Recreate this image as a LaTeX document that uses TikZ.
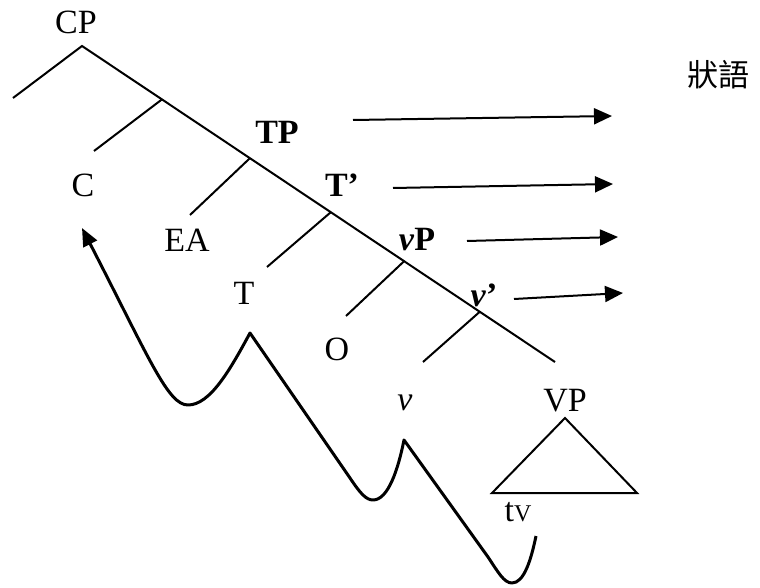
\documentclass[tikz,border=0pt]{standalone}
\usepackage{fontspec}
\setmainfont{Liberation Serif}
\newfontfamily\cjkfont{Noto Sans CJK TC}
\usetikzlibrary{arrows.meta, calc}

\begin{document}
\begin{tikzpicture}[x=1pt, y=-1pt,
  cat/.style={inner sep=0pt, font=\fontsize{34}{40}\selectfont},
  branch/.style={line width=2pt},
  arrow/.style={-{Triangle[length=18pt,width=16pt]}, line width=2pt},
  move/.style={-{Triangle[length=18pt,width=15pt]}, line width=3pt, line join=round}
]
  \useasboundingbox (0,0) rectangle (760,588);

  % labels
  \node[cat] (cp)   at (76,22)   {CP};
  \node[cat] (c)    at (83,185)  {C};
  \node[cat] (tp)   at (277,132) {\textbf{TP}};
  \node[cat] (ea)   at (187,240) {EA};
  \node[cat] (tbar) at (342,185) {\textbf{T’}};
  \node[cat] (t)    at (244,293) {T};
  \node[cat] (vp)   at (417,240) {\textbf{\textit{v}P}};
  \node[cat] (o)    at (337,349) {O};
  \node[cat] (vbar) at (484,295) {\textbf{\textit{v}’}};
  \node[cat] (v)    at (405,403) {\textit{v}};
  \node[cat] (vpl)  at (565,401) {VP};
  \node[cat] (tv)   at (518,512) {t{\fontsize{24}{28}\selectfont V}};
  \node[inner sep=0pt, font=\cjkfont\fontsize{31}{36}\selectfont] (adv) at (718,75) {狀語};

  % tree
  \coordinate (top) at (82,46);
  \coordinate (topl) at (13,98);
  \coordinate (low) at (555,362);
  \coordinate (j1) at ($(top)!0.169!(low)$);
  \coordinate (j2) at ($(top)!0.355!(low)$);
  \coordinate (j3) at ($(top)!0.526!(low)$);
  \coordinate (j4) at ($(top)!0.681!(low)$);
  \coordinate (j5) at ($(top)!0.841!(low)$);
  \coordinate (e1) at (94,151);
  \coordinate (e2) at (190,215);
  \coordinate (e3) at (267,267);
  \coordinate (e4) at (346,316);
  \coordinate (e5) at (423,362);

  \draw[branch] (topl) -- (top) -- (low);
  \draw[branch] (j1) -- (e1);
  \draw[branch] (j2) -- (e2);
  \draw[branch] (j3) -- (e3);
  \draw[branch] (j4) -- (e4);
  \draw[branch] (j5) -- (e5);

  \coordinate (apex) at (565,418);
  \coordinate (bl) at (492,493);
  \coordinate (br) at (637,493);
  \draw[branch, line join=miter] (apex) -- (bl) -- (br) -- cycle;

  % adverb arrows
  \coordinate (a1) at (353,120); \coordinate (b1) at (612,116);
  \coordinate (a2) at (393,188); \coordinate (b2) at (613,184);
  \coordinate (a3) at (467,241); \coordinate (b3) at (618,237);
  \coordinate (a4) at (514,299); \coordinate (b4) at (623,293);
  \draw[arrow] (a1) -- (b1);
  \draw[arrow] (a2) -- (b2);
  \draw[arrow] (a3) -- (b3);
  \draw[arrow] (a4) -- (b4);

  % head movement
  \coordinate (m0) at (536,536);
  \coordinate (m1) at (512,583);
  \coordinate (m2) at (404,440);
  \coordinate (m3) at (373,500);
  \coordinate (m4) at (250,333);
  \coordinate (m5) at (188,405);
  \coordinate (m6) at (82,228);
  \draw[move] (m0) .. controls (531,560) and (524,583) .. (m1)
    .. controls (504,583) and (498,572) .. (488,557) -- (m2)
    .. controls (398,470) and (388,500) .. (m3)
    .. controls (366,500) and (360,493) .. (350,478) -- (m4)
    .. controls (230,370) and (210,405) .. (m5)
    .. controls (168,405) and (150,360) .. (m6);
\end{tikzpicture}
\end{document}
